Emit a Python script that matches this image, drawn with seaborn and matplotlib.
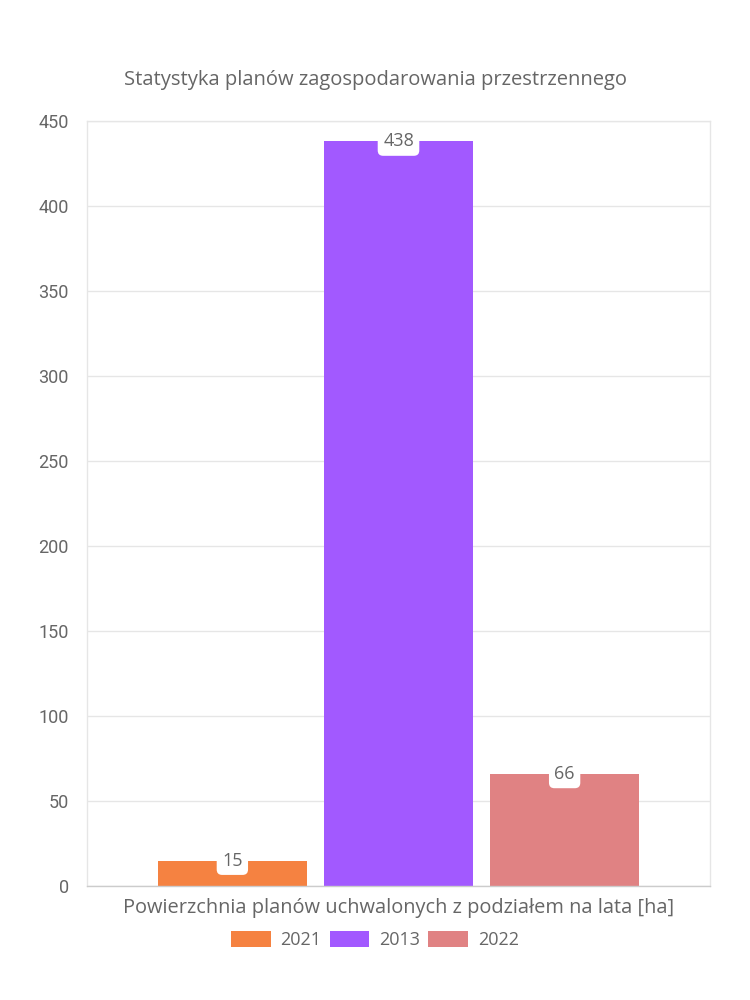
import matplotlib
matplotlib.use("Agg")
import matplotlib.pyplot as plt
import seaborn as sns
import pandas as pd

title = "Statystyka planów zagospodarowania przestrzennego"
category = "Powierzchnia planów uchwalonych z podziałem na lata [ha]"
years = ["2021", "2013", "2022"]
values = [15, 438, 66]
colors = ["#F58241", "#A259FF", "#E08283"]
y_ticks = [0, 50, 100, 150, 200, 250, 300, 350, 400, 450]

sns.set_style("white")
plt.rcParams["font.family"] = ["Open Sans", "DejaVu Sans"]

df = pd.DataFrame({"cat": [category] * len(years), "year": years, "value": values})

fig = plt.figure(figsize=(7.5, 10), dpi=100)
ax = fig.add_axes([87 / 750, 1 - 886 / 1000, (710 - 87) / 750, (886 - 121) / 1000])

sns.barplot(data=df, x="cat", y="value", hue="year", hue_order=years,
            palette=dict(zip(years, colors)), width=0.8, gap=0.1,
            saturation=1, ax=ax, legend=False, edgecolor="none", linewidth=0)

ax.set_ylim(0, 450)
ax.set_xlim(-0.5, 0.5)
ax.set_yticks(y_ticks)
ax.set_yticklabels([str(t) for t in y_ticks], fontsize=13, color="#666666",
                   family=["Roboto", "DejaVu Sans"])
ax.tick_params(axis="y", length=7, color="#e0e0e0", width=1, pad=6)
ax.tick_params(axis="x", length=0, pad=9, labelsize=14.4, labelcolor="#666666")
ax.set_xlabel("")
ax.set_ylabel("")
ax.grid(axis="y", color="#e6e6e6", linewidth=1)
ax.set_axisbelow(True)
for side in ["left", "right", "top"]:
    ax.spines[side].set_color("#e6e6e6")
    ax.spines[side].set_linewidth(1)
ax.spines["bottom"].set_color("#cccccc")
ax.spines["bottom"].set_linewidth(1)

# value labels
for patch, v in zip(ax.patches, values):
    cx = patch.get_x() + patch.get_width() / 2
    ax.text(cx, v, str(v), ha="center", va="center", fontsize=13, color="#666666",
            zorder=5,
            bbox=dict(boxstyle="round,pad=0.3,rounding_size=0.3", fc="white", ec="none"))

fig.suptitle(title, y=1 - 80 / 1000, va="center", fontsize=14.5, color="#666666")

handles = [plt.Rectangle((0, 0), 1, 1, fc=c, ec="none") for c in colors]
fig.legend(handles, years, loc="center", bbox_to_anchor=(375 / 750, 1 - 940 / 1000),
           ncol=3, frameon=False, labelcolor="#666666",
           handlelength=2.2, handleheight=1.05, handletextpad=0.55, columnspacing=0.45,
           prop={"family": ["Open Sans", "DejaVu Sans"], "size": 13})

fig.savefig("out.png", dpi=100, facecolor="white")
